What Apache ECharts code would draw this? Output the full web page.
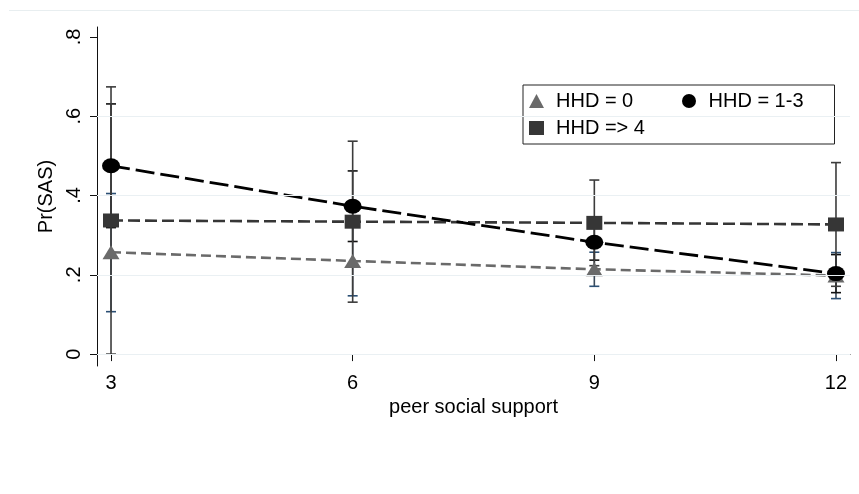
<!DOCTYPE html>
<html>
<head>
<meta charset="utf-8">
<script src="https://cdn.jsdelivr.net/npm/echarts@6/dist/echarts.min.js"></script>
<style>
html, body { margin: 0; padding: 0; background: #fff; }
#chart { width: 859px; height: 494px; }
</style>
</head>
<body>
<div id="chart"></div>
<script>
// peer social support levels (x)
var support = [3, 6, 9, 12];

// HHD = 0 (triangle)
var hhd0 = [0.257, 0.235, 0.214, 0.198];
var hhd0Lo = [0.107, 0.147, 0.171, 0.140];
var hhd0Hi = [0.405, 0.323, 0.257, 0.256];

// HHD = 1-3 (circle)
var hhd13 = [0.475, 0.373, 0.282, 0.203];
var hhd13Lo = [0.319, 0.284, 0.237, 0.155];
var hhd13Hi = [0.631, 0.462, 0.327, 0.251];

// HHD => 4 (square)
var hhd4 = [0.337, 0.334, 0.331, 0.327];
var hhd4Lo = [0.0, 0.131, 0.223, 0.171];
var hhd4Hi = [0.674, 0.537, 0.439, 0.483];

var xTicks = [3, 6, 9, 12];
var yTicks = [0, 0.2, 0.4, 0.6, 0.8];
var yGrid = [0, 0.2, 0.4, 0.6];

var FONT = 'Liberation Sans, Arial, Helvetica, sans-serif';

function pairs(vals) {
    return support.map(function (x, i) { return [x, vals[i]]; });
}

// rcap style confidence interval
function ciSeries(lo, hi, lineColor, capColor) {
    return {
        type: 'custom',
        silent: true,
        z: 1,
        data: support.map(function (x, i) { return [x, lo[i], hi[i]]; }),
        encode: { x: 0, y: [1, 2] },
        renderItem: function (params, api) {
            var top = api.coord([api.value(0), api.value(2)]);
            var bot = api.coord([api.value(0), api.value(1)]);
            var w = 5;
            return {
                type: 'group',
                children: [
                    { type: 'line', shape: { x1: top[0], y1: top[1], x2: bot[0], y2: bot[1] }, style: { stroke: lineColor, lineWidth: 1.6 } },
                    { type: 'line', shape: { x1: top[0] - w, y1: top[1], x2: top[0] + w, y2: top[1] }, style: { stroke: capColor, lineWidth: 1.6 } },
                    { type: 'line', shape: { x1: bot[0] - w, y1: bot[1], x2: bot[0] + w, y2: bot[1] }, style: { stroke: capColor, lineWidth: 1.6 } }
                ]
            };
        }
    };
}

var chart = echarts.init(document.getElementById('chart'));

var option = {
    animation: false,
    backgroundColor: '#fff',
    textStyle: { fontFamily: FONT },
    graphic: [
        { type: 'line', shape: { x1: 9, y1: 10.5, x2: 859, y2: 10.5 }, style: { stroke: '#e8eef0', lineWidth: 1 } }
    ],
    grid: { left: 97, right: 9, top: 27, bottom: 128 },
    legend: {
        data: [
            { name: 'HHD = 0', icon: 'triangle' },
            { name: 'HHD = 1-3', icon: 'circle' },
            { name: 'HHD => 4', icon: 'rect' }
        ],
        left: 523,
        top: 85,
        width: 302,
        orient: 'horizontal',
        itemGap: 7,
        itemWidth: 15,
        itemHeight: 14,
        padding: [6, 7, 6, 6],
        borderColor: '#222',
        borderWidth: 1,
        selectedMode: false,
        lineStyle: { width: 0, opacity: 0 },
        textStyle: { fontFamily: FONT, fontSize: 20, color: '#000', width: 119, lineHeight: 19, padding: [0, 0, 0, 7] }
    },
    xAxis: {
        type: 'value',
        min: 2.826,
        max: 12.174,
        name: 'peer social support',
        nameLocation: 'middle',
        nameGap: 29,
        nameTextStyle: { fontFamily: FONT, fontSize: 20, color: '#000' },
        axisLine: { show: true, lineStyle: { color: '#111', width: 1 } },
        axisTick: { show: true, length: 7, customValues: xTicks, lineStyle: { color: '#111' } },
        axisLabel: { customValues: xTicks, margin: 7, fontFamily: FONT, fontSize: 20, color: '#000' },
        splitLine: { show: false }
    },
    yAxis: {
        type: 'value',
        min: -0.03,
        max: 0.825,
        name: 'Pr(SAS)',
        nameLocation: 'middle',
        nameRotate: 90,
        nameGap: 40,
        nameTextStyle: { fontFamily: FONT, fontSize: 20, color: '#000' },
        axisLine: { show: true, lineStyle: { color: '#111', width: 1 } },
        axisTick: { show: true, length: 7, customValues: yTicks, lineStyle: { color: '#111' } },
        axisLabel: {
            customValues: yTicks,
            rotate: 90,
            margin: 13,
            fontFamily: FONT,
            fontSize: 20,
            color: '#000',
            formatter: function (v) {
                return v === 0 ? '0' : v.toFixed(1).replace(/^0\./, '.');
            }
        },
        splitLine: { show: false }
    },
    series: [
        // grid lines at labelled values (except top)
        {
            type: 'line',
            data: [],
            silent: true,
            z: 0,
            markLine: {
                silent: true,
                symbol: 'none',
                label: { show: false },
                lineStyle: { color: '#eaf0f3', width: 1.2, type: 'solid' },
                data: yGrid.map(function (v) { return { yAxis: v }; })
            }
        },
        ciSeries(hhd0Lo, hhd0Hi, '#3a4a5a', '#2b4f74'),
        ciSeries(hhd13Lo, hhd13Hi, '#222', '#111'),
        ciSeries(hhd4Lo, hhd4Hi, '#3c3c3c', '#3c3c3c'),
        {
            name: 'HHD = 0',
            type: 'line',
            z: 3,
            data: pairs(hhd0),
            symbol: 'triangle',
            symbolSize: [17, 14],
            itemStyle: { color: '#6a6a6a' },
            lineStyle: { color: '#6a6a6a', width: 2.6, type: [10, 5] }
        },
        {
            name: 'HHD => 4',
            type: 'line',
            z: 3,
            data: pairs(hhd4),
            symbol: 'rect',
            symbolSize: [16, 14],
            itemStyle: { color: '#363636' },
            lineStyle: { color: '#363636', width: 2.6, type: [12, 5] }
        },
        {
            name: 'HHD = 1-3',
            type: 'line',
            z: 4,
            data: pairs(hhd13),
            symbol: 'circle',
            symbolSize: [18, 15],
            itemStyle: { color: '#000' },
            lineStyle: { color: '#000', width: 2.8, type: [19, 6] }
        }
    ]
};

chart.setOption(option);
</script>
</body>
</html>
